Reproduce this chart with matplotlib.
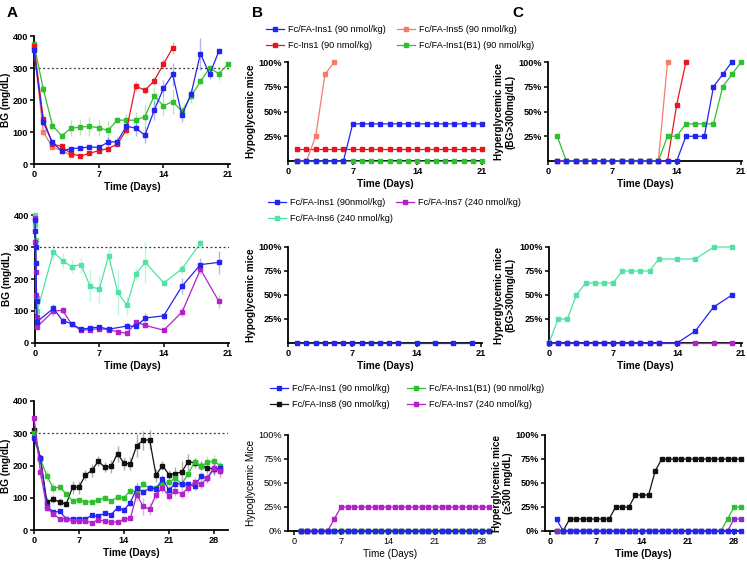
import numpy as np
import matplotlib
matplotlib.use("Agg")
import matplotlib.pyplot as plt
from matplotlib.lines import Line2D

plt.rcParams['font.family'] = ['Liberation Sans', 'DejaVu Sans']

# colours
BLUE = '#2424f0'
RED = '#e8171f'
SALMON = '#f57c68'
GREEN = '#2fc02f'
AQUA = '#50e3a4'
MAGENTA = '#b322c9'
BLACK = '#111111'

# ---------------- row 1 data ----------------
r1_red_t = list(range(0, 16))
r1_red = [370, 142, 62, 55, 32, 25, 33, 42, 48, 62, 106, 244, 230, 260, 312, 363]
r1_red_e = [20, 15, 8, 6, 5, 5, 5, 5, 5, 6, 10, 15, 12, 12, 15, 18]
r1_sal_t = [0, 1, 2, 3, 4]
r1_sal = [360, 100, 52, 42, 27]
r1_sal_e = [30, 12, 8, 8, 8]
r1_blue_t = list(range(0, 21))
r1_blue = [355, 130, 68, 40, 48, 50, 53, 52, 68, 70, 118, 112, 90, 168, 236, 280, 152, 220, 345, 280, 353]
r1_blue_e = [15, 12, 8, 5, 5, 5, 5, 5, 15, 15, 15, 25, 25, 30, 25, 35, 20, 15, 50, 15, 10]
r1_green_t = list(range(0, 22))
r1_green = [375, 235, 120, 88, 112, 115, 118, 113, 105, 137, 137, 137, 148, 213, 182, 195, 165, 212, 258, 300, 282, 313]
r1_green_e = [10, 12, 10, 10, 25, 25, 30, 25, 30, 10, 20, 25, 35, 25, 30, 40, 12, 20, 10, 10, 20, 8]

r1_hypo_days = list(range(1, 22))
r1_hypo_blue = [0] * 6 + [37.5] * 15
r1_hypo_red = [12.5] * 21
r1_hypo_green = [0] * 21
r1_hypo_sal_t = [1, 2, 3, 4, 5]
r1_hypo_sal = [0, 0, 25, 87.5, 100]

r1_hyper_blue_t = list(range(1, 21))
r1_hyper_blue = [0] * 14 + [25, 25, 25, 75, 87.5, 100]
r1_hyper_green_t = list(range(1, 22))
r1_hyper_green = [25] + [0] * 11 + [25, 25, 37.5, 37.5, 37.5, 37.5, 75, 87.5, 100]
r1_hyper_red_t = list(range(1, 16))
r1_hyper_red = [0] * 13 + [57, 100]
r1_hyper_sal_t = list(range(1, 14))
r1_hyper_sal = [0] * 12 + [100]

# ---------------- row 2 data ----------------
r2_blue_t = [0, 0.04, 0.08, 0.12, 0.17, 0.25, 2, 3, 4, 5, 6, 7, 8, 10, 11, 12, 14, 16, 18, 20]
r2_blue = [384, 350, 301, 249, 131, 67, 108, 70, 60, 43, 47, 50, 43, 53, 52, 78, 85, 178, 245, 252]
r2_blue_e = [5, 5, 5, 5, 8, 8, 15, 10, 6, 5, 5, 6, 5, 8, 6, 15, 10, 25, 20, 35]
r2_mag_t = [0, 0.04, 0.08, 0.12, 0.17, 0.25, 2, 3, 4, 5, 6, 7, 8, 9, 10, 11, 12, 14, 16, 18, 20]
r2_mag = [390, 315, 222, 150, 80, 51, 100, 102, 58, 40, 42, 45, 42, 35, 30, 65, 55, 40, 97, 230, 130]
r2_mag_e = [5, 5, 5, 5, 8, 8, 15, 12, 6, 5, 5, 5, 5, 5, 5, 8, 8, 5, 15, 15, 20]
r2_aqua_t = [0, 0.04, 0.08, 0.17, 0.25, 2, 3, 4, 5, 6, 7, 8, 9, 10, 11, 12, 14, 16, 18]
r2_aqua = [400, 369, 322, 140, 100, 285, 257, 238, 245, 177, 168, 273, 158, 118, 217, 252, 188, 232, 313]
r2_aqua_e = [5, 5, 10, 15, 25, 25, 25, 20, 25, 50, 45, 30, 70, 30, 20, 65, 10, 15, 12]

r2_hypo_t = list(range(1, 13)) + [14, 16, 18, 20]
r2_hypo_blue = [0] * 16

r2_hyper_t = list(range(0, 13)) + [14, 16, 18, 20]
r2_hyper_aqua = [0, 25, 25, 50, 62.5, 62.5, 62.5, 62.5, 75, 75, 75, 75, 87.5, 87.5, 87.5, 100, 100]
r2_hyper_blue = [0] * 14 + [12.5, 37.5, 50]
r2_hyper_mag = [0] * 17

# ---------------- row 3 data ----------------
r3_t = list(range(0, 30))
r3_black = [310, 222, 88, 95, 87, 80, 133, 133, 170, 185, 213, 195, 197, 237, 207, 205, 262, 278, 280, 170,
            200, 172, 175, 180, 212, 208, 200, 192, 190, 185]
r3_black_e = [15, 15, 15, 12, 12, 10, 20, 20, 15, 20, 15, 15, 20, 25, 20, 20, 35, 30, 30, 20,
              15, 15, 20, 35, 25, 15, 15, 15, 15, 15]
r3_green = [300, 220, 168, 130, 133, 112, 90, 93, 88, 87, 92, 100, 90, 102, 100, 122, 118, 142, 130, 130,
            145, 148, 162, 142, 175, 210, 198, 210, 213, 200]
r3_green_e = [10, 12, 15, 15, 10, 10, 8, 8, 6, 6, 6, 8, 6, 6, 6, 10, 15, 12, 10, 10,
              12, 12, 15, 15, 15, 12, 15, 20, 20, 15]
r3_blue = [285, 222, 75, 55, 58, 35, 35, 35, 35, 45, 42, 52, 48, 68, 62, 85, 130, 118, 130, 128,
           157, 125, 143, 143, 142, 135, 167, 160, 190, 192]
r3_blue_e = [10, 10, 8, 6, 6, 5, 5, 5, 5, 6, 6, 6, 6, 8, 8, 10, 20, 10, 10, 10,
             12, 12, 10, 10, 10, 12, 12, 12, 15, 15]
r3_mag = [348, 180, 68, 50, 35, 35, 27, 27, 28, 22, 32, 27, 25, 25, 33, 36, 110, 73, 65, 110,
          130, 106, 120, 112, 130, 150, 142, 162, 193, 182]
r3_mag_e = [20, 20, 8, 6, 5, 5, 5, 5, 5, 5, 5, 5, 5, 5, 5, 6, 20, 25, 20, 15,
            15, 15, 15, 15, 15, 15, 15, 15, 25, 20]

r3_hypo_t = list(range(1, 30))
r3_hypo_blue = [0] * 29
r3_hypo_zero = [0] * 29
r3_hypo_mag = [0] * 5 + [12.5] + [25] * 23

r3_hyper_t = list(range(1, 30))
r3_hyper_black = [0, 0] + [12.5] * 7 + [25] * 3 + [37.5] * 3 + [62.5] + [75] * 13
r3_hyper_green = [0] * 26 + [12.5, 25, 25]
r3_hyper_mag = [0] * 27 + [12.5, 12.5]
r3_hyper_blue = [12.5] + [0] * 28

W, H = 747, 561
fig = plt.figure(figsize=(W / 100, H / 100), dpi=100)


def add_ax(left, top, right, bottom):
    return fig.add_axes([left / W, 1 - bottom / H, (right - left) / W, (bottom - top) / H])


def style(ax, bold=True, fs=6.6):
    for s in ['top', 'right']:
        ax.spines[s].set_visible(False)
    for s in ['left', 'bottom']:
        ax.spines[s].set_linewidth(1.3)
    ax.tick_params(width=1.1, length=3, labelsize=fs, pad=1.2)
    for lab in ax.get_xticklabels() + ax.get_yticklabels():
        lab.set_fontweight('bold' if bold else 'normal')


def series(ax, t, v, color, err=None, ms=3):
    if err is not None:
        ax.errorbar(t, v, yerr=err, fmt='none', ecolor=color, alpha=0.35, elinewidth=1, capsize=0, zorder=2)
    ax.plot(t, v, color=color, lw=0.9, marker='s', ms=ms, mec=color, clip_on=False, zorder=3)


def bg_axes(ax, xmax, xticks):
    ax.axhline(300, color='#333333', lw=0.9, ls=(0, (1.5, 2)), zorder=1)
    ax.set_ylim(0, 400)
    ax.set_xlim(0, xmax)
    ax.set_yticks([0, 100, 200, 300, 400])
    ax.set_xticks(xticks)
    ax.set_ylabel('BG (mg/dL)', fontsize=7.2, fontweight='bold', labelpad=1)
    ax.set_xlabel('Time (Days)', fontsize=7.2, fontweight='bold', labelpad=2)
    style(ax)


def pct_axes(ax, xlim, xticks, ylabel, zero_label=False, bold=True, label_x=None):
    ax.set_ylim(0, 100)
    ax.set_xlim(*xlim)
    ax.set_xticks(xticks)
    if zero_label:
        ax.set_yticks([0, 25, 50, 75, 100])
        ax.set_yticklabels(['0%', '25%', '50%', '75%', '100%'])
    else:
        ax.set_yticks([25, 50, 75, 100])
        ax.set_yticklabels(['25%', '50%', '75%', '100%'])
    w = 'bold' if bold else 'normal'
    ax.set_ylabel(ylabel, fontsize=7.2, fontweight=w, labelpad=2)
    ax.set_xlabel('Time (Days)', fontsize=7.2, fontweight=w, labelpad=2)
    if label_x is not None:
        ax.yaxis.set_label_coords(label_x, 0.5)
    style(ax, bold=bold)


# ---------- row 1 ----------
a1 = add_ax(34, 36, 230, 164)
series(a1, r1_sal_t, r1_sal, SALMON, r1_sal_e)
series(a1, r1_green_t, r1_green, GREEN, r1_green_e)
series(a1, r1_red_t, r1_red, RED, r1_red_e)
series(a1, r1_blue_t, r1_blue, BLUE, r1_blue_e)
bg_axes(a1, 21.2, [0, 7, 14, 21])

b1 = add_ax(288, 62, 483, 161)
series(b1, r1_hypo_days, r1_hypo_green, GREEN)
series(b1, r1_hypo_days, r1_hypo_red, RED)
series(b1, r1_hypo_sal_t, r1_hypo_sal, SALMON)
series(b1, r1_hypo_days, r1_hypo_blue, BLUE)
pct_axes(b1, (0, 21.1), [0, 7, 14, 21], 'Hypoglycemic mice')

c1 = add_ax(548, 62, 742, 161)
series(c1, r1_hyper_red_t, r1_hyper_red, RED)
series(c1, r1_hyper_sal_t, r1_hyper_sal, SALMON)
series(c1, r1_hyper_green_t, r1_hyper_green, GREEN)
series(c1, r1_hyper_blue_t, r1_hyper_blue, BLUE)
pct_axes(c1, (0, 21.1), [0, 7, 14, 21], 'Hyperglycemic mice\n(BG>300mg/dL)', label_x=-0.165)

# ---------- row 2 ----------
a2 = add_ax(35, 215, 229, 343)
series(a2, r2_aqua_t, r2_aqua, AQUA, r2_aqua_e)
series(a2, r2_mag_t, r2_mag, MAGENTA, r2_mag_e)
series(a2, r2_blue_t, r2_blue, BLUE, r2_blue_e)
bg_axes(a2, 21.1, [0, 7, 14, 21])

b2 = add_ax(288, 247, 482, 343)
series(b2, r2_hypo_t, r2_hypo_blue, BLUE)
pct_axes(b2, (0, 21.1), [0, 7, 14, 21], 'Hypoglycemic mice')

c2 = add_ax(549, 247, 742, 343)
series(c2, r2_hyper_t, r2_hyper_mag, MAGENTA)
series(c2, r2_hyper_t, r2_hyper_aqua, AQUA)
series(c2, r2_hyper_t, r2_hyper_blue, BLUE)
pct_axes(c2, (0, 21.1), [0, 7, 14, 21], 'Hyperglycemic mice\n(BG>300mg/dL)', label_x=-0.171)

# ---------- row 3 ----------
a3 = add_ax(34, 401, 228, 530)
series(a3, r3_t, r3_black, BLACK, r3_black_e)
series(a3, r3_t, r3_green, GREEN, r3_green_e)
series(a3, r3_t, r3_blue, BLUE, r3_blue_e)
series(a3, r3_t, r3_mag, MAGENTA, r3_mag_e)
bg_axes(a3, 30.2, [0, 7, 14, 21, 28])

b3 = add_ax(288, 435, 492, 531)
series(b3, r3_hypo_t, r3_hypo_zero, BLACK)
series(b3, r3_hypo_t, r3_hypo_zero, GREEN)
series(b3, r3_hypo_t, r3_hypo_mag, MAGENTA)
series(b3, r3_hypo_t, r3_hypo_blue, BLUE)
pct_axes(b3, (-0.9, 29.5), [0, 7, 14, 21, 28], 'Hypoglycemic Mice', zero_label=True, bold=False)

c3 = add_ax(545, 435, 742, 531)
series(c3, r3_hyper_t, r3_hyper_black, BLACK)
series(c3, r3_hyper_t, r3_hyper_green, GREEN)
series(c3, r3_hyper_t, r3_hyper_mag, '#8a2bd0')
series(c3, r3_hyper_t, r3_hyper_blue, BLUE)
pct_axes(c3, (-0.75, 29.2), [0, 7, 14, 21, 28], 'Hyperglycemic mice\n(\u2265300 mg/dL)', zero_label=True,
         label_x=-0.16)


# ---------- legends ----------
def handle(color):
    return Line2D([], [], color=color, lw=0.9, marker='s', ms=3)


def leg(items, x, y):
    fig.legend([handle(c) for c, _ in items], [t for _, t in items], loc='upper left',
               bbox_to_anchor=(x / W, 1 - y / H), frameon=False, fontsize=6.6,
               handlelength=2.0, handletextpad=0.4, borderpad=0, borderaxespad=0,
               labelspacing=0.75)


leg([(BLUE, 'Fc/FA-Ins1 (90 nmol/kg)'), (RED, 'Fc-Ins1 (90 nmol/kg)')], 266, 25)
leg([(SALMON, 'Fc/FA-Ins5 (90 nmol/kg)'), (GREEN, 'Fc/FA-Ins1(B1) (90 nmol/kg)')], 397, 25)
leg([(BLUE, 'Fc/FA-Ins1 (90nmol/kg)'), (AQUA, 'Fc/FA-Ins6 (240 nmol/kg)')], 268, 198)
leg([(MAGENTA, 'Fc/FA-Ins7 (240 nmol/kg)')], 396, 198)
leg([(BLUE, 'Fc/FA-Ins1 (90 nmol/kg)'), (BLACK, 'Fc/FA-Ins8 (90 nmol/kg)')], 270, 384)
leg([(GREEN, 'Fc/FA-Ins1(B1) (90 nmol/kg)'), (MAGENTA, 'Fc/FA-Ins7 (240 nmol/kg)')], 407, 384)

# panel letters
fig.text(7 / W, 1 - 13 / H, 'A', fontsize=11, fontweight='bold', va='center')
fig.text(252 / W, 1 - 13 / H, 'B', fontsize=11, fontweight='bold', va='center')
fig.text(512 / W, 1 - 13 / H, 'C', fontsize=11, fontweight='bold', va='center')

fig.savefig('out.png', dpi=100)
